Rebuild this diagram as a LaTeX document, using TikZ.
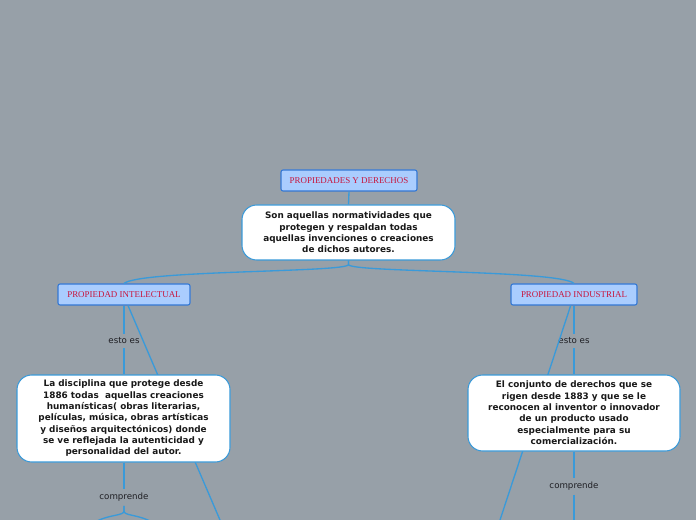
\documentclass[tikz,border=0pt]{standalone}
\usepackage{fontspec}
\setmainfont{DejaVu Sans}
\newfontfamily\titlefont{Liberation Serif}
\begin{document}
\begin{tikzpicture}[x=0.75pt,y=-0.75pt,
  conn/.style={draw=linecol, line width=1pt},
  titlebox/.style={draw=titleborder, fill=titlefill, rounded corners=1.5pt, line width=0.8pt,
    font=\titlefont\fontsize{6.7}{7.5}\selectfont, text=titletext, inner sep=0pt, minimum height=15.75pt},
  textbox/.style={draw=boxborder, fill=white, rounded corners=11pt, line width=0.8pt,
    font=\bfseries\fontsize{6.65}{8.5}\selectfont, text=textcol, align=center, inner sep=0pt},
  lab/.style={font=\fontsize{6.5}{7.5}\selectfont, text=labcol, inner xsep=1pt, inner ysep=3pt}]
\definecolor{bg}{RGB}{151,160,168}
\definecolor{linecol}{RGB}{58,154,217}
\definecolor{titleborder}{RGB}{52,120,212}
\definecolor{titlefill}{RGB}{170,205,254}
\definecolor{titletext}{RGB}{200,20,60}
\definecolor{boxborder}{RGB}{58,154,217}
\definecolor{textcol}{RGB}{25,25,25}
\definecolor{labcol}{RGB}{30,30,35}
\fill[bg] (0,0) rectangle (696,520);
\useasboundingbox (0,0) rectangle (696,520);

% off-canvas ends
\coordinate (piend) at (220,520);
\coordinate (pndend) at (500,520);
\coordinate (lsplitL) at (95,522);
\coordinate (lsplitR) at (152,522);
\coordinate (rdown) at (574,520);

% nodes
\node[titlebox, minimum width=102pt] (root) at (349,180.5) {PROPIEDADES Y DERECHOS};
\node[textbox, minimum width=159.75pt, minimum height=41.25pt] (son) at (348.5,232.5)
  {Son aquellas normatividades que\\protegen y respaldan todas\\aquellas invenciones o creaciones\\de dichos autores.};
\node[titlebox, minimum width=99pt] (pi) at (124,294.5) {PROPIEDAD INTELECTUAL};
\node[titlebox, minimum width=94.5pt] (pnd) at (574,294.5) {PROPIEDAD INDUSTRIAL};
\node[lab] (esto1) at (124,341) {esto es};
\node[lab] (esto2) at (574,341) {esto es};
\node[lab] (comp1) at (124,497.5) {comprende};
\node[lab] (comp2) at (574,486.5) {comprende};

% connectors behind boxes
\draw[conn] ([xshift=3pt]pi.south) -- (piend);
\draw[conn] ([xshift=-2.5pt]pnd.south) -- (pndend);

\node[textbox, minimum width=159.75pt, minimum height=65.25pt] (dis) at (123.5,418.5)
  {La disciplina que protege desde\\1886 todas~ aquellas creaciones\\humanísticas( obras literarias,\\películas, música, obras artísticas\\y diseños arquitectónicos) donde\\se ve reflejada la autenticidad y\\personalidad del autor.};
\node[textbox, minimum width=159pt, minimum height=57pt] (con) at (574,413)
  {El conjunto de derechos que se\\rigen desde 1883 y que se le\\reconocen al inventor o innovador\\de un producto usado\\especialmente para su\\comercialización.};

\draw[conn] (root.south) -- (son.north);
\draw[conn] (son.south) -- ++(0,4) .. controls +(0,8) and (140,270) .. (pi.north);
\draw[conn] (son.south) -- ++(0,4) .. controls +(0,8) and (560,270) .. (pnd.north);
\draw[conn] (pi.south) -- (esto1.north);
\draw[conn] (esto1.south) -- (esto1.south |- dis.north);
\draw[conn] (pnd.south) -- (esto2.north);
\draw[conn] (esto2.south) -- (con.north);
\draw[conn] (dis.south -| comp1.north) -- (comp1.north);
\draw[conn] (comp1.south) -- ++(0,5) .. controls +(0,5) and (110,514) .. (lsplitL);
\draw[conn] (comp1.south) -- ++(0,5) .. controls +(0,5) and (137,514) .. (lsplitR);
\draw[conn] (con.south) -- (comp2.north);
\draw[conn] (comp2.south) -- (rdown);
\end{tikzpicture}
\end{document}
